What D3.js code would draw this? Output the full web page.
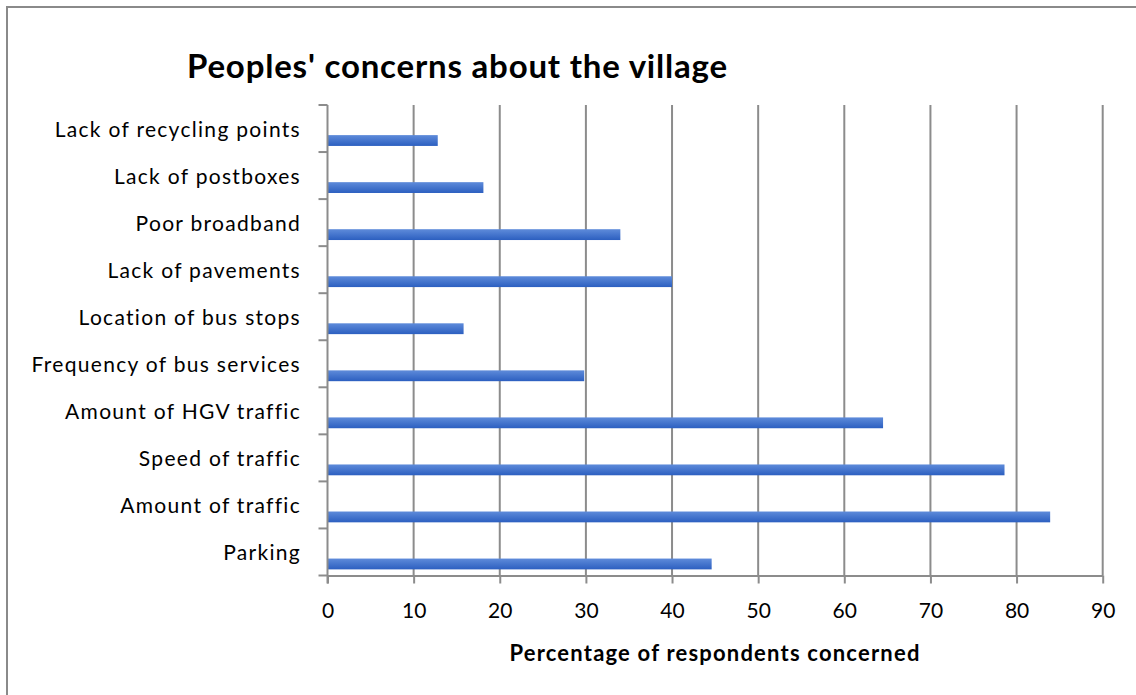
<!DOCTYPE html>
<html>
<head>
<meta charset="utf-8">
<script src="https://cdn.jsdelivr.net/npm/d3@7"></script>
<style>
  body { margin: 0; background: #fff; }
  svg text { font-family: Lato, "Open Sans", sans-serif; fill: #000; }
</style>
</head>
<body>
<svg id="chart" width="1136" height="695"></svg>
<script>
// categories top to bottom, as shown in the chart
const categories = [
    "Lack of recycling points",
    "Lack of postboxes",
    "Poor broadband",
    "Lack of pavements",
    "Location of bus stops",
    "Frequency of bus services",
    "Amount of HGV traffic",
    "Speed of traffic",
    "Amount of traffic",
    "Parking"
];
// percentage of respondents concerned
const values = [12.8, 18.1, 34.0, 40.0, 15.8, 29.8, 64.5, 78.6, 83.9, 44.6];
const xTicks = [0, 10, 20, 30, 40, 50, 60, 70, 80, 90];

const titleText = "Peoples' concerns about the village";
const xAxisTitle = "Percentage of respondents concerned";

let svg = d3.select("#chart");

// outer chart border (runs off right and bottom edges like the original)
svg.append("rect")
    .attr("x", 7).attr("y", 7)
    .attr("width", 1150).attr("height", 710)
    .attr("fill", "none")
    .attr("stroke", "#8a8a8a")
    .attr("stroke-width", 2);

let plotLeft = 327.5, plotRight = 1102.7, plotTop = 105, plotBottom = 575.5;

let x = d3.scaleLinear().domain([0, 90]).range([plotLeft, plotRight]);
let y = d3.scaleBand().domain(categories).range([plotTop, plotBottom]);

// bar gradient
let grad = svg.append("defs").append("linearGradient")
    .attr("id", "barGrad")
    .attr("x1", 0).attr("y1", 0).attr("x2", 0).attr("y2", 1);
grad.append("stop").attr("offset", "0%").attr("stop-color", "#5e8bda");
grad.append("stop").attr("offset", "100%").attr("stop-color", "#2c5fc0");

// vertical gridlines
svg.append("g")
    .selectAll("line")
    .data(xTicks.slice(1))
    .enter().append("line")
    .attr("x1", d => x(d)).attr("x2", d => x(d))
    .attr("y1", plotTop).attr("y2", plotBottom)
    .attr("stroke", "#8c8c8c")
    .attr("stroke-width", 2);

// bars
svg.append("g")
    .selectAll("rect")
    .data(categories)
    .enter().append("rect")
    .attr("x", x(0))
    .attr("y", d => y(d) + y.bandwidth() * 0.64)
    .attr("height", y.bandwidth() * 0.23)
    .attr("width", (d, i) => x(values[i]) - x(0))
    .attr("fill", "url(#barGrad)");

// x axis
let xAxis = svg.append("g")
    .attr("transform", "translate(0," + plotBottom + ")")
    .call(d3.axisBottom(x).tickValues(xTicks).tickSize(8).tickSizeOuter(0).tickPadding(20));
xAxis.select(".domain").attr("stroke", "#8c8c8c").attr("stroke-width", 2);
xAxis.selectAll(".tick line").attr("stroke", "#8c8c8c").attr("stroke-width", 2);
xAxis.selectAll(".tick text")
    .style("font-size", "21px");

// y axis: line plus ticks at the band boundaries
let yEdges = categories.map(d => y(d)).concat([plotBottom]);
svg.append("line")
    .attr("x1", plotLeft).attr("x2", plotLeft)
    .attr("y1", plotTop).attr("y2", plotBottom + 8)
    .attr("stroke", "#8c8c8c").attr("stroke-width", 2);
svg.append("g")
    .selectAll("line")
    .data(yEdges)
    .enter().append("line")
    .attr("x1", plotLeft - 9).attr("x2", plotLeft)
    .attr("y1", d => d).attr("y2", d => d)
    .attr("stroke", "#8c8c8c").attr("stroke-width", 2);

// category labels
svg.append("g")
    .selectAll("text")
    .data(categories)
    .enter().append("text")
    .attr("x", 301)
    .attr("y", d => y(d) + y.bandwidth() / 2 + 1)
    .attr("dy", "0.35em")
    .attr("text-anchor", "end")
    .style("font-size", "21px")
    .style("letter-spacing", "1.3px")
    .text(d => d);

// title
svg.append("text")
    .attr("x", 187)
    .attr("y", 78)
    .style("font-size", "33px")
    .style("font-weight", "bold")
    .style("letter-spacing", "0.8px")
    .text(titleText);

// x axis title
svg.append("text")
    .attr("x", 715)
    .attr("y", 661)
    .attr("text-anchor", "middle")
    .style("font-size", "22px")
    .style("font-weight", "bold")
    .style("letter-spacing", "1.2px")
    .text(xAxisTitle);
</script>
</body>
</html>
